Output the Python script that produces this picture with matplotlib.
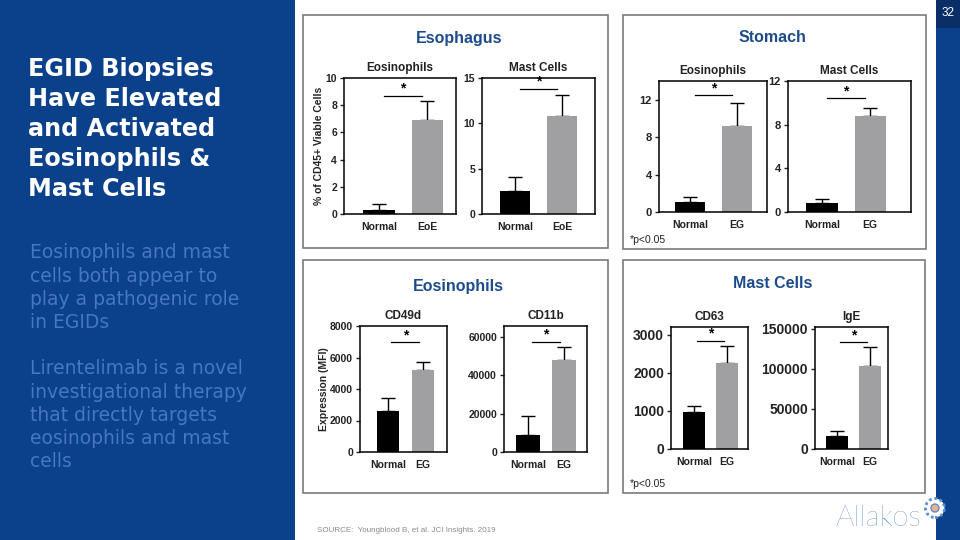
import matplotlib
matplotlib.use('Agg')
import matplotlib.pyplot as plt
from matplotlib.patches import Rectangle, Ellipse

plt.rcParams['font.family'] = ['Liberation Sans', 'DejaVu Sans']

W, H = 960, 540

# ---- data ----
groups_eoe = ['Normal', 'EoE']
groups_eg = ['Normal', 'EG']

esoph_eos_mean = [0.3, 6.9]
esoph_eos_top = [0.7, 8.3]
esoph_mast_mean = [2.5, 10.8]
esoph_mast_top = [4.1, 13.1]

stom_eos_mean = [1.1, 9.2]
stom_eos_top = [1.6, 11.7]
stom_mast_mean = [0.8, 8.8]
stom_mast_top = [1.2, 9.5]

cd49d_mean = [2600, 5200]
cd49d_top = [3450, 5700]
cd11b_mean = [9000, 47800]
cd11b_top = [18500, 54500]

cd63_mean = [980, 2260]
cd63_top = [1140, 2700]
ige_mean = [16000, 104000]
ige_top = [23000, 127000]

# height of the significance bar in each panel
sig_y = {'esoph_eos': 8.7, 'esoph_mast': 13.8, 'stom_eos': 12.5, 'stom_mast': 10.4,
         'cd49d': 6980, 'cd11b': 57400, 'cd63': 2840, 'ige': 133700}

DARK = '#222222'
BLUE = '#1d4b8c'


def px_axes(fig, l, t, r, b):
    return fig.add_axes([l / W, 1 - b / H, (r - l) / W, (b - t) / H])


def bar_panel(fig, rect, labels, mean, top, ylim, yticks, xlim, sig, title,
              tick_fs=7.5, xfs=7.5, ylabel=None):
    ax = px_axes(fig, *rect)
    x = [0, 1]
    err = [[0, 0], [top[0] - mean[0], top[1] - mean[1]]]
    ax.bar(x, mean, width=0.65, color=['black', '#a0a0a2'], zorder=2)
    ax.errorbar(x, mean, yerr=err, fmt='none', ecolor='black', elinewidth=1,
                capsize=5, capthick=1, zorder=1)
    ax.plot([0.1, 0.9], [sig, sig], color='black', lw=0.9)
    ax.text(0.5, sig, '*', ha='center', va='bottom', fontsize=10,
            fontweight='bold', color='black')
    ax.set_xlim(*xlim)
    ax.set_ylim(*ylim)
    ax.set_yticks(yticks)
    ax.set_xticks(x)
    ax.set_xticklabels(labels, fontsize=xfs, fontweight='bold', color=DARK)
    ax.tick_params(axis='x', length=0, pad=6)
    ax.tick_params(axis='y', length=3, width=1, labelsize=tick_fs, colors=DARK, pad=2)
    for lab in ax.get_yticklabels():
        lab.set_fontweight('bold')
    for s in ax.spines.values():
        s.set_linewidth(1.1)
    ax.set_title(title, fontsize=8.5, fontweight='bold', color=DARK, pad=5)
    if ylabel:
        ax.set_ylabel(ylabel, fontsize=7.5, fontweight='bold', color=DARK, labelpad=1)
    return ax


fig = plt.figure(figsize=(9.6, 5.4), dpi=100)
fig.patch.set_facecolor('white')


def frect(l, t, r, b, **kw):
    fig.patches.append(Rectangle((l / W, 1 - b / H), (r - l) / W, (b - t) / H,
                                 transform=fig.transFigure, **kw))


def ftext(x, y, s, **kw):
    fig.text(x / W, 1 - y / H, s, **kw)


# left blue panel and right strip
frect(0, 0, 295, 540, facecolor='#0b408b', edgecolor='none')
frect(936, 0, 960, 540, facecolor='#0b408b', edgecolor='none')
frect(936, 0, 960, 28, facecolor='#0a2f66', edgecolor='none')
ftext(948, 13, '32', color='white', fontsize=8.5, ha='center', va='center')

title_lines = ['EGID Biopsies', 'Have Elevated', 'and Activated',
               'Eosinophils &', 'Mast Cells']
for i, line in enumerate(title_lines):
    ftext(28, 69 + i * 30, line, color='white', fontsize=17.2, fontweight='bold',
          family='DejaVu Sans', va='center')

body_lines = ['Eosinophils and mast', 'cells both appear to',
              'play a pathogenic role', 'in EGIDs', '',
              'Lirentelimab is a novel', 'investigational therapy',
              'that directly targets', 'eosinophils and mast', 'cells']
for i, line in enumerate(body_lines):
    ftext(30, 253 + i * 23.2, line, color='#4677c0', fontsize=13.5,
          family='DejaVu Sans', va='center')

# panel boxes
for (l, t, r, b) in [(303, 15, 608, 248), (623, 15, 926, 249),
                     (303, 260, 608, 493), (623, 260, 925, 493)]:
    frect(l, t, r, b, facecolor='none', edgecolor='#7a7a7a', lw=1.2)

ftext(459, 38, 'Esophagus', color=BLUE, fontsize=11.5, fontweight='bold', ha='center', va='center')
ftext(772, 38, 'Stomach', color=BLUE, fontsize=11.5, fontweight='bold', ha='center', va='center')
ftext(458, 287, 'Eosinophils', color=BLUE, fontsize=11.5, fontweight='bold', ha='center', va='center')
ftext(773, 284, 'Mast Cells', color=BLUE, fontsize=11.5, fontweight='bold', ha='center', va='center')

bar_panel(fig, (344, 78, 456, 214), groups_eoe, esoph_eos_mean, esoph_eos_top,
          (0, 10), [0, 2, 4, 6, 8, 10], (-0.73, 1.6), sig_y['esoph_eos'],
          'Eosinophils', ylabel='% of CD45+ Viable Cells')
bar_panel(fig, (482, 78, 595, 214), groups_eoe, esoph_mast_mean, esoph_mast_top,
          (0, 15), [0, 5, 10, 15], (-0.7, 1.7), sig_y['esoph_mast'], 'Mast Cells')

bar_panel(fig, (659, 81, 767, 212), groups_eg, stom_eos_mean, stom_eos_top,
          (0, 14), [0, 4, 8, 12], (-0.66, 1.64), sig_y['stom_eos'], 'Eosinophils',
          tick_fs=8)
bar_panel(fig, (788, 81, 911, 212), groups_eg, stom_mast_mean, stom_mast_top,
          (0, 12), [0, 4, 8, 12], (-0.71, 1.85), sig_y['stom_mast'], 'Mast Cells',
          tick_fs=8)
ftext(630, 240, '*p<0.05', color=DARK, fontsize=7.5, va='center')

bar_panel(fig, (360, 326, 447, 452), groups_eg, cd49d_mean, cd49d_top,
          (0, 8000), [0, 2000, 4000, 6000, 8000], (-0.8, 1.69), sig_y['cd49d'],
          'CD49d', ylabel='Expression (MFI)')
bar_panel(fig, (504, 326, 587, 452), groups_eg, cd11b_mean, cd11b_top,
          (0, 65500), [0, 20000, 40000, 60000], (-0.67, 1.64), sig_y['cd11b'], 'CD11b')

bar_panel(fig, (671, 327, 748, 449), groups_eg, cd63_mean, cd63_top,
          (0, 3200), [0, 1000, 2000, 3000], (-0.7, 1.64), sig_y['cd63'], 'CD63',
          tick_fs=10)
bar_panel(fig, (815, 327, 888, 449), groups_eg, ige_mean, ige_top,
          (0, 152500), [0, 50000, 100000, 150000], (-0.67, 1.55), sig_y['ige'], 'IgE',
          tick_fs=10)
ftext(630, 484, '*p<0.05', color=DARK, fontsize=7.5, va='center')

# footer
ftext(317, 530, 'SOURCE:  Youngblood B, et al. JCI Insights. 2019', color='#8a8a8a',
      fontsize=5.8, va='center')
ftext(878, 518, 'Allakos', color='#2a68b0', fontsize=21, ha='center', va='center',
      family=['Lato', 'DejaVu Sans'], fontweight='light')
fig.patches.append(Ellipse((935 / W, 1 - 508 / H), 19 / W, 19 / H, transform=fig.transFigure,
                           facecolor='white', edgecolor='#5a8fd0', lw=2, ls=(0, (1, 1))))
fig.patches.append(Ellipse((935 / W, 1 - 508 / H), 8 / W, 8 / H, transform=fig.transFigure,
                           facecolor='#f0b08a', edgecolor='#5a8fd0', lw=1))

fig.savefig('out.png', dpi=100)
